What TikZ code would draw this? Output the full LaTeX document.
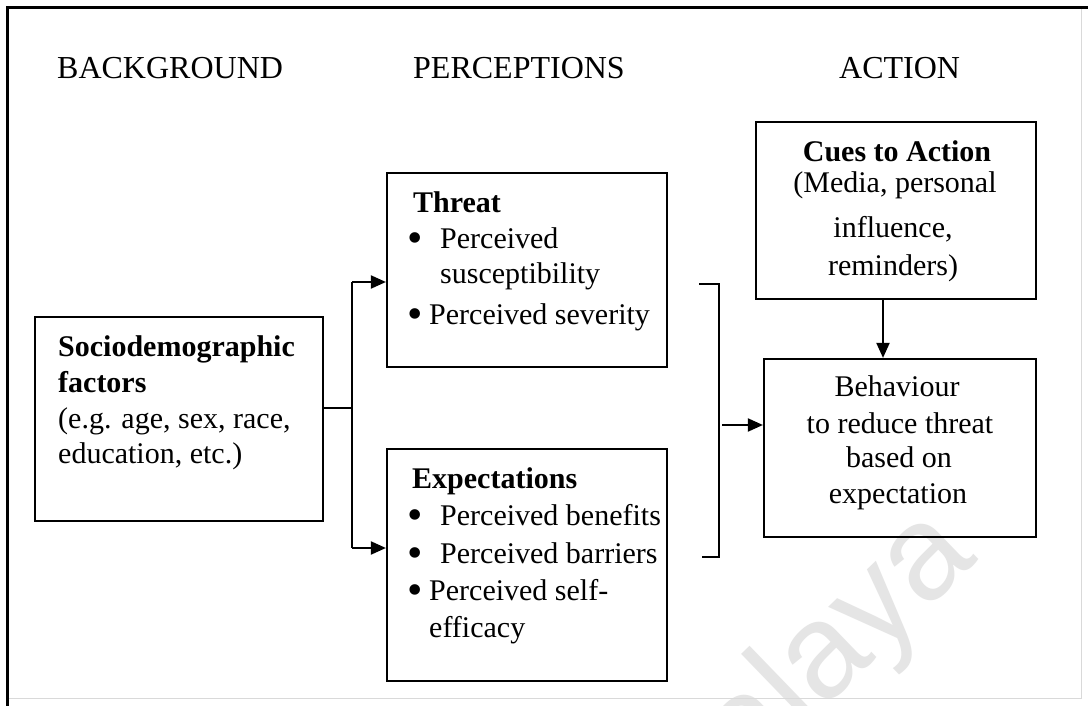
\documentclass[tikz,border=0pt]{standalone}
\usepackage{fontspec}
\setmainfont{Liberation Serif}
\newfontfamily\wmfont{Liberation Sans}
\usetikzlibrary{arrows.meta}

\tikzset{
  box/.style={draw=black, line width=2.2pt, inner sep=0pt, rectangle},
  conn/.style={draw=black, line width=2pt},
  arr/.style={conn, -{Triangle[length=15pt,width=13pt]}},
  txt/.style={inner sep=0pt, anchor=base west, font=\fontsize{30}{36}\selectfont},
  ctxt/.style={txt, anchor=base},
  btxt/.style={txt, font=\fontsize{30}{36}\selectfont\bfseries},
  cbtxt/.style={btxt, anchor=base},
  head/.style={inner sep=0pt, anchor=base west, font=\fontsize{32}{38}\selectfont},
  bul/.style={inner sep=0pt, anchor=base, font=\fontsize{44}{44}\selectfont},
  wm/.style={inner sep=0pt, anchor=base west, text=black!10, font=\fontsize{134}{134}\wmfont}
}

\begin{document}
\begin{tikzpicture}[x=1pt,y=-1pt]
\useasboundingbox (0,0) rectangle (1088,706);
\fill[white] (0,0) rectangle (1088,706);

% faint watermark behind everything
\begin{scope}
  \clip (0,0) rectangle (1088,706);
  \node[wm, rotate=44] (wmark) at (668,860) {Malaya};
\end{scope}

% page frame
\draw[black!15, line width=1pt] (1081,8) -- (1081,698) -- (7,698);
\draw[black, line width=3pt] (7,706) -- (7,8) -- (1088,8);

% column headings
\node[head] (hbg) at (57,79) {BACKGROUND};
\node[head] (hpe) at (413,79) {PERCEPTIONS};
\node[head] (hac) at (839,79) {ACTION};

% boxes
\node[box, minimum width=288pt, minimum height=204pt] (soc) at (179,419) {};
\node[box, minimum width=280pt, minimum height=194pt] (thr) at (527,270) {};
\node[box, minimum width=280pt, minimum height=232pt] (exp) at (527,565) {};
\node[box, minimum width=280pt, minimum height=177pt] (cue) at (896,210.5) {};
\node[box, minimum width=272pt, minimum height=178pt] (beh) at (900,448) {};

% background factors
\node[btxt] (soc1) at (58,356) {Sociodemographic};
\node[btxt] (soc2) at (58,392) {factors};
\node[txt]  (soc3) at (58,428) {(e.g. age, sex, race,};
\node[txt]  (soc4) at (58,463) {education, etc.)};

% threat
\node[btxt] (thr1) at (413,212) {Threat};
\node[bul]  (thrb1) at (415,252) {\textbullet};
\node[txt]  (thr2) at (440,248) {Perceived};
\node[txt]  (thr3) at (440,283) {susceptibility};
\node[bul]  (thrb2) at (415,328) {\textbullet};
\node[txt]  (thr4) at (429,324) {Perceived severity};

% expectations
\node[btxt] (exp1) at (412,488) {Expectations};
\node[bul]  (expb1) at (415,529) {\textbullet};
\node[txt]  (exp2) at (440,525) {Perceived benefits};
\node[bul]  (expb2) at (415,567) {\textbullet};
\node[txt]  (exp3) at (440,563) {Perceived barriers};
\node[bul]  (expb3) at (415,604) {\textbullet};
\node[txt]  (exp4) at (429,600) {Perceived self-};
\node[txt]  (exp5) at (429,637) {efficacy};

% cues to action
\node[cbtxt] (cue1) at (897,162) {Cues to Action};
\node[ctxt]  (cue2) at (895,193) {(Media, personal};
\node[ctxt]  (cue3) at (893,237) {influence,};
\node[ctxt]  (cue4) at (893,276) {reminders)};

% behaviour
\node[ctxt] (beh1) at (897,396) {Behaviour};
\node[ctxt] (beh2) at (900,433) {to reduce threat};
\node[ctxt] (beh3) at (899,467) {based on};
\node[ctxt] (beh4) at (898,503) {expectation};

% branch from background to perceptions
\coordinate (j1) at (352,408);
\coordinate (jt) at (352,282);
\coordinate (jb) at (352,548);
\draw[conn] (soc.east |- j1) -- (j1);
\draw[conn] (jt) -- (jb);
\draw[arr] (jt) -- (thr.west |- jt);
\draw[arr] (jb) -- (exp.west |- jb);

% bracket joining perceptions, leading to behaviour
\coordinate (bt0) at (699,284);
\coordinate (bt) at (719,284);
\coordinate (bb) at (719,557);
\coordinate (bb0) at (702,557);
\draw[conn] (bt0) -- (bt) -- (bb) -- (bb0);
\coordinate (ba) at (722,425);
\draw[arr] (ba) -- (beh.west |- ba);

% cues feed behaviour
\coordinate (ca) at (883,0);
\draw[arr] (cue.south -| ca) -- (beh.north -| ca);
\end{tikzpicture}
\end{document}
